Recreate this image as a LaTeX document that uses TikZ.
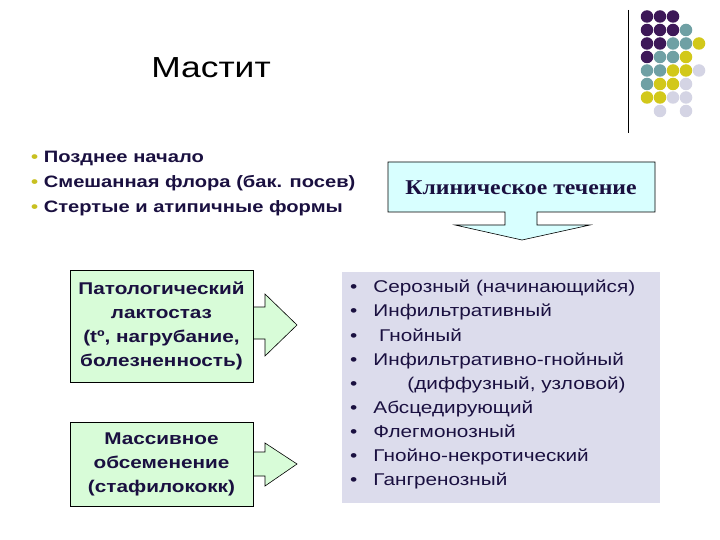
\documentclass[tikz,border=0pt]{standalone}
\usepackage{fontspec}
\setmainfont{Liberation Sans}[FakeStretch=1.22]
\newfontfamily\serifrm{Liberation Serif}[FakeStretch=1.13]
\definecolor{navy}{HTML}{1A1040}
\definecolor{pp}{HTML}{3D1858}
\definecolor{tt}{HTML}{6FA0A4}
\definecolor{yy}{HTML}{D2C81A}
\definecolor{ll}{HTML}{D4D4E4}
\definecolor{bul}{HTML}{C8C020}
\definecolor{greenbox}{HTML}{D8FCD8}
\definecolor{cyanbox}{HTML}{D8FFFF}
\definecolor{lav}{HTML}{DCDCEC}
\tikzset{x=1pt,y=-1pt,
 gbox/.style={draw=black,fill=greenbox,line width=0.8pt},
 garrow/.style={draw=black,fill=greenbox,line width=0.6pt},
 txt/.style={text=navy,font=\fontsize{17}{24}\selectfont,align=center},
 dot/.style={circle,inner sep=0pt,minimum size=12.5pt}}
\begin{document}
\begin{tikzpicture}
\useasboundingbox (0,0) rectangle (720,540);
\fill[white] (0,0) rectangle (720,540);
% decoration
\draw[line width=1pt] (628,10) -- (628,133);
\foreach \r/\cols in {1/{1/pp,2/pp,3/pp},2/{1/pp,2/pp,3/pp,4/tt},3/{1/pp,2/pp,3/tt,4/tt,5/yy},4/{1/pp,2/tt,3/tt,4/yy},5/{1/tt,2/tt,3/yy,4/yy,5/ll},6/{1/tt,2/yy,3/yy,4/ll},7/{1/yy,2/yy,3/ll,4/ll},8/{2/ll,4/ll}}{
 \foreach \c/\col in \cols { \node[dot,fill=\col] (d\r\c) at ({634+13*\c},{3+13.5*\r}) {}; } }
% title
\node (title) at (211,68) {\fontsize{29}{34}\selectfont Мастит};
% top bullets
\node[anchor=north west,align=left,text=navy,font=\fontsize{16.5}{25}\selectfont\bfseries,inner sep=0pt] (tl) at (31,151)
 {\textcolor{bul}{•} Позднее начало\\ \textcolor{bul}{•} Смешанная флора (бак. посев)\\ \textcolor{bul}{•} Стертые и атипичные формы};
% clinical box with down arrow
\draw[draw=black,fill=cyanbox,line width=0.6pt] (388,162) -- (655,162) -- (655,212) -- (537,212) -- (537,225) -- (590,225) -- (522,240) -- (455,225) -- (505,225) -- (505,212) -- (388,212) -- cycle;
\node[text=navy,font=\serifrm\fontsize{21}{25}\selectfont\bfseries] (clin) at (521,188) {Клиническое течение};
% left boxes
\draw[garrow] (253,307) -- (265,307) -- (265,294) -- (297,325) -- (265,356) -- (265,339) -- (253,339) -- cycle;
\draw[garrow] (253,452) -- (265,452) -- (265,443) -- (297,464) -- (265,486) -- (265,476) -- (253,476) -- cycle;
\node[gbox,minimum width=183pt,minimum height=112pt,txt,inner sep=1pt] (b1) at (161.5,326) {\bfseries Патологический\\ \bfseries лактостаз\\ \bfseries (tº, нагрубание,\\ \bfseries болезненность)};
\node[gbox,minimum width=183pt,minimum height=84pt,txt,inner sep=1pt] (b2) at (161.5,464) {\bfseries Массивное\\ \bfseries обсеменение\\ \bfseries (стафилококк)};
% right list
\node[fill=lav,minimum width=318pt,minimum height=231pt] (rb) at (501,387.5) {};
\node[anchor=north west,align=left,text=navy,font=\fontsize{17}{24.1}\selectfont,inner sep=0pt] (list) at (350,280)
 {•\hspace{16pt}Серозный (начинающийся)\\ •\hspace{16pt}Инфильтративный\\ •\hspace{16pt}\ Гнойный\\ •\hspace{16pt}Инфильтративно-гнойный\\ •\hspace{16pt}\qquad(диффузный, узловой)\\ •\hspace{16pt}Абсцедирующий\\ •\hspace{16pt}Флегмонозный\\ •\hspace{16pt}Гнойно-некротический\\ •\hspace{16pt}Гангренозный};
\end{tikzpicture}
\end{document}
